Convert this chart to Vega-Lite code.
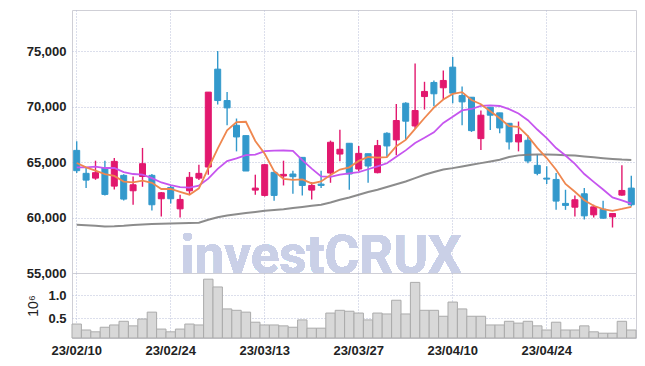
{
  "$schema": "https://vega.github.io/schema/vega-lite/v6.json",
  "padding": {"left": 23, "top": 9, "right": 10, "bottom": 5},
  "background": "white",
  "spacing": 0,
  "bounds": "flush",
  "config": {
    "view": {"stroke": "#cfcfd6", "strokeWidth": 1},
    "font": "Liberation Sans",
    "axis": {
      "labelFont": "Liberation Sans",
      "labelFontWeight": "bold",
      "labelFontSize": 13,
      "labelColor": "#222222",
      "ticks": false,
      "tickSize": 0,
      "domain": false,
      "gridColor": "#b9bfd8",
      "gridDash": [1, 2],
      "gridWidth": 1,
      "labelPadding": 6
    }
  },
  "data": {
    "values": [
      {"d":"23/02/10","o":66050,"h":66870,"l":64010,"c":64220,"v":0.37,"m5":64910,"m10":64520,"m60":59340},
      {"d":"23/02/13","o":63980,"h":64460,"l":62650,"c":63370,"v":0.24,"m5":64520,"m10":64520,"m60":59300},
      {"d":"23/02/14","o":63550,"h":65120,"l":63400,"c":64040,"v":0.20,"m5":64220,"m10":64580,"m60":59250},
      {"d":"23/02/15","o":64460,"h":65120,"l":61990,"c":62080,"v":0.30,"m5":63920,"m10":64460,"m60":59200},
      {"d":"23/02/16","o":62830,"h":65360,"l":62530,"c":65060,"v":0.35,"m5":63750,"m10":64460,"m60":59220},
      {"d":"23/02/17","o":63800,"h":63900,"l":61540,"c":61660,"v":0.43,"m5":63240,"m10":64100,"m60":59260},
      {"d":"23/02/20","o":62410,"h":63700,"l":61150,"c":62950,"v":0.33,"m5":63160,"m10":63920,"m60":59320},
      {"d":"23/02/21","o":63700,"h":66270,"l":62770,"c":64850,"v":0.48,"m5":63320,"m10":63860,"m60":59370},
      {"d":"23/02/22","o":63800,"h":63920,"l":60630,"c":61150,"v":0.63,"m5":63130,"m10":63550,"m60":59410},
      {"d":"23/02/23","o":61690,"h":62290,"l":60090,"c":62230,"v":0.26,"m5":62570,"m10":63160,"m60":59440},
      {"d":"23/02/24","o":62710,"h":62830,"l":61270,"c":61690,"v":0.20,"m5":62570,"m10":62910,"m60":59470},
      {"d":"23/02/27","o":60780,"h":62050,"l":60000,"c":61630,"v":0.26,"m5":62310,"m10":62730,"m60":59480},
      {"d":"23/02/28","o":62410,"h":64100,"l":62110,"c":63620,"v":0.37,"m5":62060,"m10":62690,"m60":59500},
      {"d":"23/03/02","o":63550,"h":64760,"l":63370,"c":63980,"v":0.35,"m5":62630,"m10":62880,"m60":59530},
      {"d":"23/03/03","o":64550,"h":71300,"l":63860,"c":71300,"v":1.35,"m5":64440,"m10":63500,"m60":59800},
      {"d":"23/03/06","o":73370,"h":75000,"l":70180,"c":70540,"v":1.18,"m5":66210,"m10":64390,"m60":60030},
      {"d":"23/03/07","o":70540,"h":71300,"l":68310,"c":69880,"v":0.70,"m5":67860,"m10":65090,"m60":60180},
      {"d":"23/03/08","o":68310,"h":68920,"l":65960,"c":67260,"v":0.67,"m5":68590,"m10":65330,"m60":60300},
      {"d":"23/03/09","o":67380,"h":67380,"l":64190,"c":64190,"v":0.63,"m5":68630,"m10":65630,"m60":60400},
      {"d":"23/03/10","o":62470,"h":63860,"l":62050,"c":62650,"v":0.41,"m5":66900,"m10":65670,"m60":60500},
      {"d":"23/03/13","o":61990,"h":64820,"l":61900,"c":64760,"v":0.35,"m5":65750,"m10":65980,"m60":60600},
      {"d":"23/03/14","o":64070,"h":64070,"l":61510,"c":61990,"v":0.35,"m5":64170,"m10":66020,"m60":60680},
      {"d":"23/03/15","o":63740,"h":65120,"l":62890,"c":63890,"v":0.33,"m5":63490,"m10":66040,"m60":60750},
      {"d":"23/03/16","o":63920,"h":64220,"l":62140,"c":63680,"v":0.30,"m5":63390,"m10":66010,"m60":60850},
      {"d":"23/03/17","o":65420,"h":65420,"l":61990,"c":62890,"v":0.46,"m5":63440,"m10":65170,"m60":60950},
      {"d":"23/03/20","o":62470,"h":63190,"l":61630,"c":62890,"v":0.28,"m5":63070,"m10":64410,"m60":61050},
      {"d":"23/03/21","o":63010,"h":64220,"l":62650,"c":62890,"v":0.28,"m5":63250,"m10":63710,"m60":61150},
      {"d":"23/03/22","o":64010,"h":66930,"l":63130,"c":66780,"v":0.61,"m5":63830,"m10":63660,"m60":61350},
      {"d":"23/03/23","o":65720,"h":67920,"l":65060,"c":66150,"v":0.67,"m5":64320,"m10":63860,"m60":61600},
      {"d":"23/03/24","o":66690,"h":66690,"l":62500,"c":63920,"v":0.65,"m5":64520,"m10":63980,"m60":61800},
      {"d":"23/03/27","o":64370,"h":66450,"l":64160,"c":65780,"v":0.61,"m5":65100,"m10":64090,"m60":62050},
      {"d":"23/03/28","o":65750,"h":65750,"l":63130,"c":64640,"v":0.46,"m5":65450,"m10":64350,"m60":62300},
      {"d":"23/03/29","o":64040,"h":66990,"l":63980,"c":66480,"v":0.61,"m5":65390,"m10":64610,"m60":62500},
      {"d":"23/03/30","o":67590,"h":67680,"l":65480,"c":66450,"v":0.59,"m5":65450,"m10":64890,"m60":62750},
      {"d":"23/03/31","o":66990,"h":70240,"l":65600,"c":68740,"v":0.89,"m5":66420,"m10":65470,"m60":63000},
      {"d":"23/04/03","o":70300,"h":70390,"l":66990,"c":68680,"v":0.59,"m5":66990,"m10":66050,"m60":63250},
      {"d":"23/04/04","o":68250,"h":73890,"l":68010,"c":69640,"v":1.28,"m5":67990,"m10":66720,"m60":63550},
      {"d":"23/04/05","o":70900,"h":72230,"l":69730,"c":71360,"v":0.67,"m5":68970,"m10":67180,"m60":63850},
      {"d":"23/04/06","o":72170,"h":72350,"l":70030,"c":71150,"v":0.67,"m5":69910,"m10":67680,"m60":64100},
      {"d":"23/04/07","o":71690,"h":73250,"l":70630,"c":72350,"v":0.54,"m5":70630,"m10":68520,"m60":64330},
      {"d":"23/04/10","o":73550,"h":74460,"l":70300,"c":71210,"v":0.85,"m5":71140,"m10":69070,"m60":64450},
      {"d":"23/04/11","o":70990,"h":71810,"l":68310,"c":70420,"v":0.70,"m5":71300,"m10":69650,"m60":64600},
      {"d":"23/04/12","o":70840,"h":70840,"l":67710,"c":67830,"v":0.54,"m5":70590,"m10":69780,"m60":64750},
      {"d":"23/04/13","o":67110,"h":69640,"l":66080,"c":69220,"v":0.54,"m5":70210,"m10":70060,"m60":64900},
      {"d":"23/04/14","o":69940,"h":69940,"l":67890,"c":69220,"v":0.35,"m5":69580,"m10":70110,"m60":65050},
      {"d":"23/04/17","o":69430,"h":69430,"l":67590,"c":68070,"v":0.35,"m5":68950,"m10":70050,"m60":65200},
      {"d":"23/04/18","o":68490,"h":68490,"l":66120,"c":66810,"v":0.43,"m5":68230,"m10":69760,"m60":65450},
      {"d":"23/04/19","o":66810,"h":68650,"l":65960,"c":67470,"v":0.39,"m5":68160,"m10":69370,"m60":65600},
      {"d":"23/04/20","o":66960,"h":67410,"l":64880,"c":65090,"v":0.43,"m5":67330,"m10":68770,"m60":65660},
      {"d":"23/04/21","o":64700,"h":65660,"l":63800,"c":63980,"v":0.33,"m5":66280,"m10":67930,"m60":65680},
      {"d":"23/04/24","o":63550,"h":64610,"l":63010,"c":63460,"v":0.24,"m5":65360,"m10":67160,"m60":65680},
      {"d":"23/04/25","o":63430,"h":64010,"l":60690,"c":61480,"v":0.41,"m5":64300,"m10":66260,"m60":65660},
      {"d":"23/04/26","o":61270,"h":62500,"l":60690,"c":61090,"v":0.24,"m5":63020,"m10":65590,"m60":65620},
      {"d":"23/04/27","o":60930,"h":61990,"l":60090,"c":61600,"v":0.24,"m5":62320,"m10":64830,"m60":65580},
      {"d":"23/04/28","o":62140,"h":62650,"l":59820,"c":60150,"v":0.33,"m5":61560,"m10":63920,"m60":65500},
      {"d":"23/05/02","o":60240,"h":61150,"l":60000,"c":60960,"v":0.20,"m5":61060,"m10":63210,"m60":65430},
      {"d":"23/05/03","o":60750,"h":61510,"l":59880,"c":59940,"v":0.17,"m5":60750,"m10":62520,"m60":65350},
      {"d":"23/05/04","o":60060,"h":60360,"l":59100,"c":60360,"v":0.17,"m5":60600,"m10":61810,"m60":65280},
      {"d":"23/05/08","o":62020,"h":64700,"l":61960,"c":62440,"v":0.43,"m5":60770,"m10":61550,"m60":65220},
      {"d":"23/05/09","o":62650,"h":63770,"l":60990,"c":61150,"v":0.24,"m5":60970,"m10":61260,"m60":65180}
    ]
  },
  "resolve": {"scale": {"y": "independent"}},
  "vconcat": [
    {
      "width": 564,
      "height": 263,
      "encoding": {
        "x": {
          "field": "d", "type": "ordinal",
          "scale": {"type": "band", "paddingInner": 0, "paddingOuter": 0},
          "axis": {"labels": false, "title": null, "grid": true, "bandPosition": 0.5,
                   "values": ["23/02/10","23/02/24","23/03/13","23/03/27","23/04/10","23/04/24"]}
        }
      },
      "layer": [
        {
          "mark": {"type": "text", "text": "investCRUX", "font": "Roboto", "fontWeight": "bold",
                   "fontSize": 53, "fill": "#cad0e7", "align": "center", "baseline": "alphabetic"},
          "encoding": {
            "x": {"datum": "23/03/21", "type": "ordinal"},
            "y": {"datum": 55000, "type": "quantitative"}
          }
        },
        {
          "mark": {"type": "rule", "strokeWidth": 1.4},
          "encoding": {
            "y": {"field": "l", "type": "quantitative",
                  "scale": {"domain": [55000, 78700], "nice": false, "zero": false},
                  "axis": {"values": [55000, 60000, 65000, 70000, 75000], "format": ",d", "title": null,
                           "grid": true, "minExtent": 48, "maxExtent": 48}},
            "y2": {"field": "h"},
            "color": {"condition": {"test": "datum.c > datum.o", "value": "#e2186e"}, "value": "#3399cc"}
          }
        },
        {
          "mark": {"type": "bar", "size": 6, "strokeWidth": 1},
          "encoding": {
            "y": {"field": "o", "type": "quantitative"},
            "y2": {"field": "c"},
            "fill": {"condition": {"test": "datum.c > datum.o", "value": "#e2186e"}, "value": "#3399cc"},
            "stroke": {"condition": {"test": "datum.c > datum.o", "value": "#e2186e"}, "value": "#3399cc"}
          }
        },
        {
          "mark": {"type": "line", "color": "#808080", "strokeWidth": 2, "opacity": 0.9},
          "encoding": {"y": {"field": "m60", "type": "quantitative"}}
        },
        {
          "mark": {"type": "line", "color": "#c655ef", "strokeWidth": 1.8},
          "encoding": {"y": {"field": "m10", "type": "quantitative"}}
        },
        {
          "mark": {"type": "line", "color": "#ef874f", "strokeWidth": 1.8},
          "encoding": {"y": {"field": "m5", "type": "quantitative"}}
        }
      ]
    },
    {
      "width": 564,
      "height": 65,
      "mark": {"type": "bar", "fill": "#d8d8d8", "stroke": "#ababab", "strokeWidth": 1},
      "encoding": {
        "x": {
          "field": "d", "type": "ordinal",
          "scale": {"type": "band", "paddingInner": 0, "paddingOuter": 0},
          "axis": {"title": null, "grid": true, "bandPosition": 0.5, "labelAngle": 0, "labelPadding": 6,
                   "values": ["23/02/10","23/02/24","23/03/13","23/03/27","23/04/10","23/04/24"]}
        },
        "y": {
          "field": "v", "type": "quantitative",
          "scale": {"domain": [0.065, 1.485], "nice": false, "zero": false},
          "axis": {"values": [0.5, 1.0], "format": ".1f", "title": "10⁶", "titleFont": "Liberation Sans",
                   "titleFontWeight": "normal", "titleFontSize": 14, "titleColor": "#222222", "titlePadding": 8,
                   "grid": true, "minExtent": 24, "maxExtent": 24}
        },
        "y2": {"datum": 0.065}
      }
    }
  ]
}
